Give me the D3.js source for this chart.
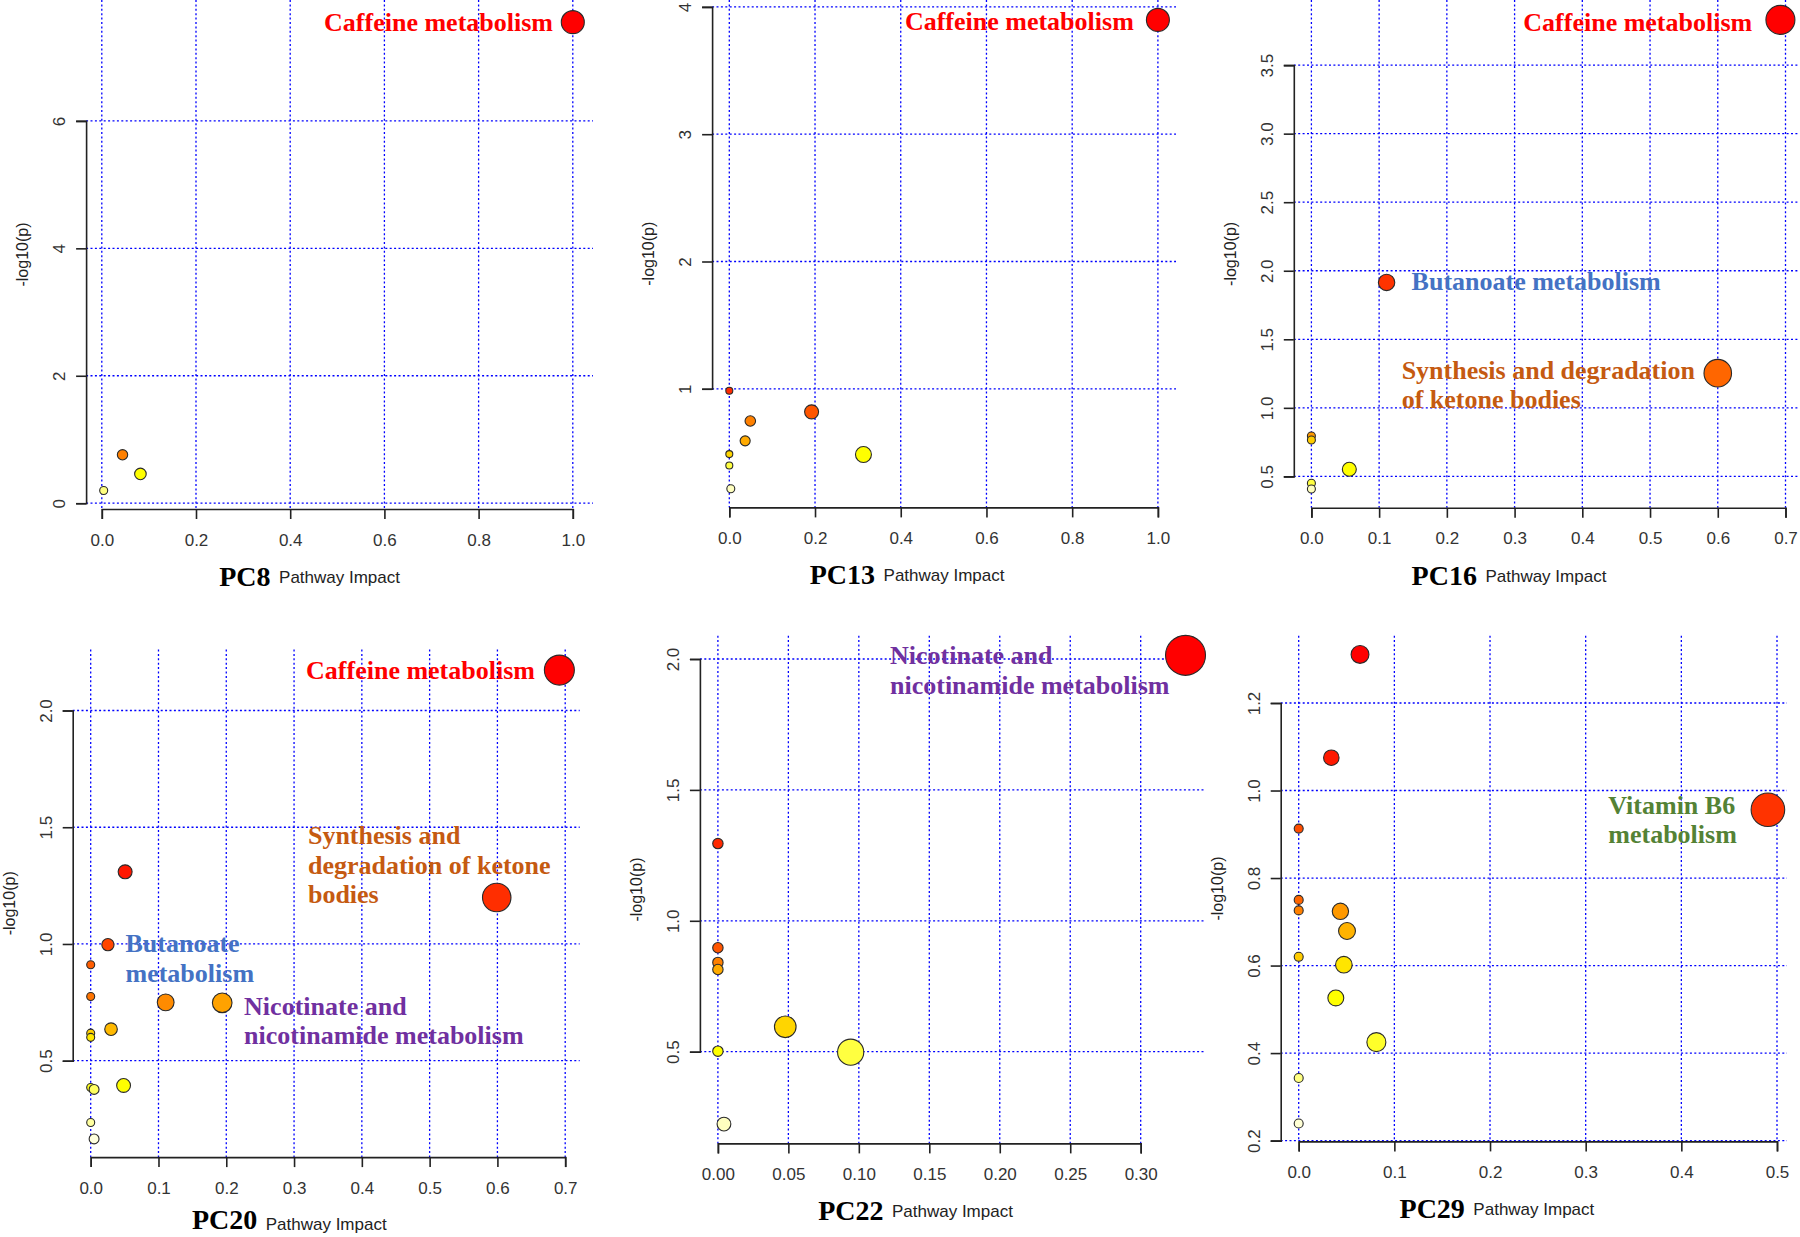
<!DOCTYPE html>
<html><head><meta charset="utf-8">
<script src="https://cdn.jsdelivr.net/npm/d3@7"></script>
<style>body{margin:0;background:#fff} svg{display:block}</style>
</head><body>
<svg id="chart" width="1800" height="1237"></svg>
<script>
// ---------------- data ----------------
const panelTitles = ["PC8", "PC13", "PC16", "PC20", "PC22", "PC29"];
const xAxisTitle = "Pathway Impact";
const yAxisTitle = "-log10(p)";

// pathway impact (x) and -log10(p) (y) per panel
const pc8Impact  = [1.0, 0.044, 0.082, 0.004];
const pc8LogP    = [7.55, 0.76, 0.46, 0.20];

const pc13Impact = [1.0, 0.0, 0.192, 0.049, 0.037, 0.0, 0.313, 0.0, 0.0035];
const pc13LogP   = [3.898, 0.985, 0.819, 0.747, 0.591, 0.487, 0.484, 0.398, 0.215];

const pc16Impact = [0.6925, 0.111, 0.600, 0.0, 0.0, 0.056, 0.0, 0.0];
const pc16LogP   = [3.83, 1.915, 1.253, 0.795, 0.766, 0.552, 0.45, 0.408];

const pc20Impact = [0.6914, 0.0508, 0.599, 0.0254, 0.0, 0.0, 0.1106, 0.194, 0.030, 0.0, 0.0, 0.0485, 0.0, 0.005, 0.0, 0.005];
const pc20LogP   = [2.173, 1.309, 1.199, 0.997, 0.911, 0.775, 0.750, 0.748, 0.635, 0.618, 0.600, 0.394, 0.385, 0.377, 0.235, 0.165];

const pc22Impact = [0.3318, 0.0, 0.0, 0.0, 0.0, 0.0478, 0.0, 0.0942, 0.0043];
const pc22LogP   = [2.014, 1.295, 0.897, 0.841, 0.814, 0.595, 0.502, 0.498, 0.2235];

const pc29Impact = [0.0641, 0.0341, 0.4905, 0.0, 0.0, 0.0, 0.0436, 0.0505, 0.0, 0.0472, 0.0388, 0.0812, 0.0, 0.0];
const pc29LogP   = [1.311, 1.075, 0.956, 0.913, 0.750, 0.726, 0.724, 0.679, 0.620, 0.602, 0.526, 0.425, 0.343, 0.239];

// ticks
const xTicks10 = [0, 0.2, 0.4, 0.6, 0.8, 1.0];
const xLabels10 = ["0.0", "0.2", "0.4", "0.6", "0.8", "1.0"];
const xTicks07 = [0, 0.1, 0.2, 0.3, 0.4, 0.5, 0.6, 0.7];
const xLabels07 = ["0.0", "0.1", "0.2", "0.3", "0.4", "0.5", "0.6", "0.7"];
const xTicks03 = [0, 0.05, 0.10, 0.15, 0.20, 0.25, 0.30];
const xLabels03 = ["0.00", "0.05", "0.10", "0.15", "0.20", "0.25", "0.30"];
const xTicks05 = [0, 0.1, 0.2, 0.3, 0.4, 0.5];
const xLabels05 = ["0.0", "0.1", "0.2", "0.3", "0.4", "0.5"];

const yTicksPC8 = [0, 2, 4, 6];
const yLabelsPC8 = ["0", "2", "4", "6"];
const yTicksPC13 = [1, 2, 3, 4];
const yLabelsPC13 = ["1", "2", "3", "4"];
const yTicksPC16 = [0.5, 1.0, 1.5, 2.0, 2.5, 3.0, 3.5];
const yLabelsPC16 = ["0.5", "1.0", "1.5", "2.0", "2.5", "3.0", "3.5"];
const yTicksHalf = [0.5, 1.0, 1.5, 2.0];
const yLabelsHalf = ["0.5", "1.0", "1.5", "2.0"];
const yTicksPC29 = [0.2, 0.4, 0.6, 0.8, 1.0, 1.2];
const yLabelsPC29 = ["0.2", "0.4", "0.6", "0.8", "1.0", "1.2"];

// annotation texts
const txtCaffeine = ["Caffeine metabolism"];
const txtButanoate1 = ["Butanoate metabolism"];
const txtButanoate2 = ["Butanoate", "metabolism"];
const txtKetone2 = ["Synthesis and degradation", "of ketone bodies"];
const txtKetone3 = ["Synthesis and", "degradation of ketone", "bodies"];
const txtNicotinate = ["Nicotinate and", "nicotinamide metabolism"];
const txtVitB6 = ["Vitamin B6", "metabolism"];

// ---------------- layout / style ----------------
const C_RED = "#FF0000", C_BLUE = "#4472C4", C_ORANGE = "#C55A11", C_PURPLE = "#7030A0", C_GREEN = "#548235";

const panels = [
  { title: panelTitles[0], impact: pc8Impact, logp: pc8LogP, xTicks: xTicks10, xLabels: xLabels10, yTicks: yTicksPC8, yLabels: yLabelsPC8,
    xPix: [101.8, 572.8], yPix: [503.2, 120.9], left: 86.1, right: 593, top: 0, bottom: 509, rMin: 3.5, rMax: 11.5,
    notes: [{ i: 0, lines: txtCaffeine, color: C_RED, anchor: "end", dx: -19.8, dy: 8.4 }] },
  { title: panelTitles[1], impact: pc13Impact, logp: pc13LogP, xTicks: xTicks10, xLabels: xLabels10, yTicks: yTicksPC13, yLabels: yLabelsPC13,
    xPix: [729.3, 1157.9], yPix: [388.8, 6.9], left: 712.1, right: 1176, top: 0, bottom: 507.4, rMin: 3.5, rMax: 11.5,
    notes: [{ i: 0, lines: txtCaffeine, color: C_RED, anchor: "end", dx: -24.1, dy: 10.1 }] },
  { title: panelTitles[2], impact: pc16Impact, logp: pc16LogP, xTicks: xTicks07, xLabels: xLabels07, yTicks: yTicksPC16, yLabels: yLabelsPC16,
    xPix: [1311.4, 1785.5], yPix: [476.4, 65.1], left: 1293.8, right: 1798, top: 0, bottom: 507.8, rMin: 4, rMax: 14.5,
    notes: [{ i: 0, lines: txtCaffeine, color: C_RED, anchor: "end", dx: -28.2, dy: 10.7 },
            { i: 1, lines: txtButanoate1, color: C_BLUE, anchor: "start", dx: 25, dy: 7.3 },
            { i: 2, lines: txtKetone2, color: C_ORANGE, anchor: "start", dx: -316.1, dy: 5.6 }] },
  { title: panelTitles[3], impact: pc20Impact, logp: pc20LogP, xTicks: xTicks07, xLabels: xLabels07, yTicks: yTicksHalf, yLabels: yLabelsHalf,
    xPix: [90.7, 565.2], yPix: [1060.7, 710.5], left: 72.7, right: 579.7, top: 649.5, bottom: 1157.1, rMin: 4, rMax: 15,
    notes: [{ i: 0, lines: txtCaffeine, color: C_RED, anchor: "end", dx: -24.4, dy: 8.9 },
            { i: 2, lines: txtKetone3, color: C_ORANGE, anchor: "start", dx: -188.8, dy: -53.2 },
            { i: 3, lines: txtButanoate2, color: C_BLUE, anchor: "start", dx: 17.6, dy: 7.8 },
            { i: 7, lines: txtNicotinate, color: C_PURPLE, anchor: "start", dx: 21.9, dy: 11.7 }] },
  { title: panelTitles[4], impact: pc22Impact, logp: pc22LogP, xTicks: xTicks03, xLabels: xLabels03, yTicks: yTicksHalf, yLabels: yLabelsHalf,
    xPix: [717.9, 1140.7], yPix: [1051.7, 659], left: 699.9, right: 1205, top: 635.7, bottom: 1143.4, rMin: 5.2, rMax: 20,
    notes: [{ i: 0, lines: txtNicotinate, color: C_PURPLE, anchor: "start", dx: -295.5, dy: 8.7 }] },
  { title: panelTitles[5], impact: pc29Impact, logp: pc29LogP, xTicks: xTicks05, xLabels: xLabels05, yTicks: yTicksPC29, yLabels: yLabelsPC29,
    xPix: [1298.7, 1777], yPix: [1140.6, 703], left: 1280.7, right: 1787, top: 635.7, bottom: 1141.4, rMin: 4.5, rMax: 16.8,
    notes: [{ i: 2, lines: txtVitB6, color: C_GREEN, anchor: "start", dx: -159.6, dy: 3.8 }] }
];

const SANS = "'Liberation Sans', Arial, sans-serif";
const SERIF = "'Liberation Serif', 'Times New Roman', serif";
const LINE_H = 29.5;
const H = 1237;

// R's heat.colors(n)
function heatColors(n) {
  const j = Math.floor(n / 4), i = n - j, out = [];
  for (let k = 0; k < i; k++) out.push(hsvToRgb(i > 1 ? (k / (i - 1)) / 6 : 0, 1, 1));
  for (let k = 0; k < j; k++) {
    const from = 1 - 1 / (2 * j), to = 1 / (2 * j);
    const s = j > 1 ? from + (to - from) * k / (j - 1) : from;
    out.push(hsvToRgb(1 / 6, s, 1));
  }
  return out;
}
function hsvToRgb(h, s, v) {
  const hh = h * 6, c = v * s, x = c * (1 - Math.abs((hh % 2) - 1)), m = v - c;
  let r, g, b;
  if (hh < 1) [r, g, b] = [c, x, 0]; else if (hh < 2) [r, g, b] = [x, c, 0]; else [r, g, b] = [0, c, x];
  return d3.rgb(Math.round((r + m) * 255), Math.round((g + m) * 255), Math.round((b + m) * 255)).formatHex();
}

const svg = d3.select("#chart");
const gridLayer = svg.append("g");
const axisLayer = svg.append("g");
const pointLayer = svg.append("g");
const textLayer = svg.append("g");

panels.forEach(p => {
  const x = d3.scaleLinear().domain([p.xTicks[0], p.xTicks[p.xTicks.length - 1]]).range(p.xPix);
  const y = d3.scaleLinear().domain([p.yTicks[0], p.yTicks[p.yTicks.length - 1]]).range(p.yPix);
  const r = d3.scalePow().exponent(0.5).domain([0, d3.max(p.impact)]).range([p.rMin, p.rMax]);

  // grid
  const grid = gridLayer.append("g").attr("stroke", "#0000FF").attr("stroke-width", 1.3)
    .attr("stroke-dasharray", "2,2.4").attr("fill", "none");
  grid.selectAll(".vg").data(p.xTicks).join("line")
    .attr("x1", d => x(d)).attr("x2", d => x(d)).attr("y1", p.top).attr("y2", p.bottom);
  grid.selectAll(".hg").data(p.yTicks).join("line")
    .attr("x1", p.left).attr("x2", p.right).attr("y1", d => y(d)).attr("y2", d => y(d));

  // axes
  const xa = axisLayer.append("g").attr("transform", `translate(0,${p.bottom})`)
    .call(d3.axisBottom(x).tickValues(p.xTicks).tickFormat((d, i) => p.xLabels[i]).tickSizeOuter(0).tickSize(10));
  const ya = axisLayer.append("g").attr("transform", `translate(${p.left},0)`)
    .call(d3.axisLeft(y).tickValues(p.yTicks).tickFormat((d, i) => p.yLabels[i]).tickSizeOuter(0).tickSize(10));
  [xa, ya].forEach(a => {
    a.attr("font-family", SANS).attr("font-size", 17);
    a.selectAll("path, line").attr("stroke", "#222").attr("stroke-width", 1.6);
    a.selectAll("text").attr("fill", "#333");
  });
  xa.selectAll("text").attr("y", 36.5).attr("dy", null);
  ya.selectAll("text").attr("x", null).attr("dy", null).attr("text-anchor", "middle")
    .attr("transform", "translate(-21,0) rotate(-90)");

  // axis titles
  const cx = (p.left + p.right) / 2;
  const xt = textLayer.append("text").attr("x", cx).attr("y", Math.min(p.bottom + 74, H - 7)).attr("text-anchor", "middle")
    .attr("font-family", SANS).attr("font-size", 17).attr("fill", "#222").text(xAxisTitle);
  const w = xt.node().getComputedTextLength();
  textLayer.append("text").attr("x", cx - w / 2 - 8.5).attr("y", Math.min(p.bottom + 77, H - 8)).attr("text-anchor", "end")
    .attr("font-family", SERIF).attr("font-weight", "bold").attr("font-size", 28).attr("fill", "#000").text(p.title);
  const cy = (p.top + p.bottom) / 2;
  textLayer.append("text").attr("transform", `translate(${p.left - 58},${cy}) rotate(-90)`).attr("text-anchor", "middle")
    .attr("font-family", SANS).attr("font-size", 16).attr("fill", "#222").text(yAxisTitle);

  // points, coloured by rank (heat.colors), lower-ranked drawn on top
  const idx = d3.range(p.logp.length).sort((a, b) => p.logp[b] - p.logp[a]);
  const cols = heatColors(idx.length);
  pointLayer.append("g").selectAll("circle").data(idx).join("circle")
    .attr("cx", i => x(p.impact[i])).attr("cy", i => y(p.logp[i])).attr("r", i => r(p.impact[i]))
    .attr("fill", (i, k) => cols[k]).attr("stroke", "#2a2a2a").attr("stroke-width", 1.1);

  // annotations
  p.notes.forEach(n => {
    const t = textLayer.append("text").attr("font-family", SERIF).attr("font-weight", "bold").attr("font-size", 26)
      .attr("fill", n.color).attr("text-anchor", n.anchor);
    const px = x(p.impact[n.i]) + n.dx, py = y(p.logp[n.i]) + n.dy;
    n.lines.forEach((ln, k) => t.append("tspan").attr("x", px).attr("y", py + k * LINE_H).text(ln));
  });
});
</script>
</body></html>
